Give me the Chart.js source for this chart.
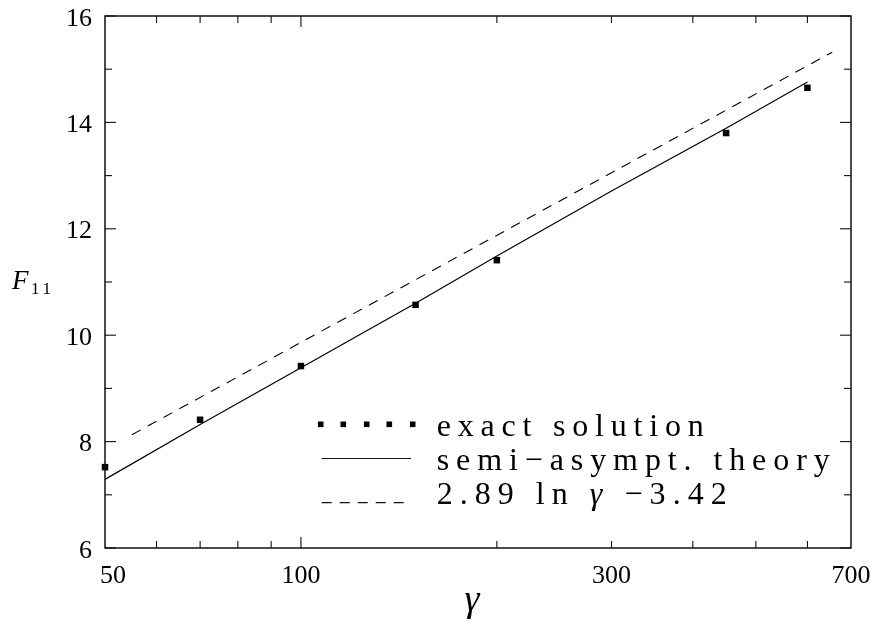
<!DOCTYPE html>
<html>
<head>
<meta charset="utf-8">
<title>F11 vs gamma</title>
<script src="https://cdn.jsdelivr.net/npm/chart.js@4.4.1/dist/chart.umd.min.js"></script>
<style>
  html, body { margin: 0; padding: 0; background: #fff; }
  #wrap { position: relative; width: 878px; height: 624px; }
</style>
</head>
<body>
<div id="wrap"><canvas id="plot"></canvas></div>
<script>
"use strict";

// exact solution (square markers)
const gammaExact = [50, 70, 100, 150, 200, 450, 600];
const f11Exact = [7.52, 8.41, 9.42, 10.57, 11.41, 13.80, 14.65];

// semi-asymptotic theory (solid curve)
const gammaSemi = [50, 70, 100, 150, 200, 300, 450, 600];
const f11Semi = [7.29, 8.32, 9.39, 10.60, 11.49, 12.71, 13.89, 14.76];

// fit 2.89 ln(gamma) - 3.42 (dashed), end points
const gammaFit = [55, 655];
const f11Fit = [8.13, 15.32];

// axes
const xRange = [50, 700];
const yRange = [6, 16];
const xLabels = [50, 100, 300, 700];
const xMajorTicks = [100];
const xMinorTicks = [60, 70, 80, 90, 200, 300, 400, 500, 600];
const yMajorTicks = [6, 8, 10, 12, 14, 16];
const yMinorTicks = [7, 9, 11, 13, 15];

const legendRows = [
  [{ text: "exact solution", style: "" }],
  [{ text: "semi\u2212asympt. theory", style: "" }],
  [{ text: "2.89 ln ", style: "" }, { text: "\u03b3", style: "italic " }, { text: " \u22123.42", style: "" }],
];

const SERIF = '"Liberation Serif", "DejaVu Serif", serif';

function pairs(xs, ys) {
  return xs.map((v, i) => ({ x: v, y: ys[i] }));
}

// Text with the spare room spread evenly between characters so it spans `width`.
function spacedText(ctx, runs, x0, yb, size, width) {
  const chars = [];
  for (const r of runs) {
    const font = r.style + size + "px " + SERIF;
    ctx.font = font;
    for (const ch of r.text) chars.push({ ch, font, w: ctx.measureText(ch).width });
  }
  const total = chars.reduce((s, c) => s + c.w, 0);
  const gap = (width - total) / (chars.length - 1);
  let x = x0;
  for (const c of chars) {
    ctx.font = c.font;
    ctx.fillText(c.ch, x, yb);
    x += c.w + gap;
  }
}

const frame = {
  id: "frame",
  afterDatasetsDraw(chart) {
    const { ctx, chartArea: a } = chart;
    const sx = chart.scales.x, sy = chart.scales.y;
    const line = (x1, y1, x2, y2) => {
      ctx.beginPath(); ctx.moveTo(x1, y1); ctx.lineTo(x2, y2); ctx.stroke();
    };
    ctx.save();
    ctx.strokeStyle = "#111";
    ctx.lineWidth = 1.5;
    ctx.strokeRect(a.left, a.top, a.right - a.left, a.bottom - a.top);

    // inward ticks on all four sides
    ctx.lineWidth = 1.1;
    const xTick = (v, len) => {
      const p = sx.getPixelForValue(v);
      line(p, a.bottom, p, a.bottom - len);
      line(p, a.top, p, a.top + len);
    };
    const yTick = (v, len) => {
      const p = sy.getPixelForValue(v);
      line(a.left, p, a.left + len, p);
      line(a.right, p, a.right - len, p);
    };
    xMajorTicks.forEach((v) => xTick(v, 11));
    xMinorTicks.forEach((v) => xTick(v, 7));
    yMajorTicks.forEach((v) => yTick(v, 11));
    yMinorTicks.forEach((v) => yTick(v, 7));

    // tick labels
    ctx.fillStyle = "#000";
    ctx.font = "26px " + SERIF;
    ctx.textBaseline = "alphabetic";
    ctx.textAlign = "right";
    yMajorTicks.forEach((v) => ctx.fillText(String(v), a.left - 13, sy.getPixelForValue(v) + 9.5));
    ctx.textAlign = "center";
    xLabels.forEach((v, i) => {
      const p = sx.getPixelForValue(v) + (i === 0 ? 8 : 0);
      ctx.fillText(String(v), p, a.bottom + 35);
    });

    // axis titles
    ctx.font = "italic 38px " + SERIF;
    ctx.fillText("\u03b3", (a.left + a.right) / 2 - 6, a.bottom + 63);
    ctx.textAlign = "left";
    ctx.font = "italic 27px " + SERIF;
    ctx.fillText("F", 12, 288.5);
    spacedText(ctx, [{ text: "11", style: "" }], 31, 293.5, 17, 20);

    // legend
    const lx0 = 321.7, lx1 = 411;
    [320.7, 343.3, 366.7, 389.3, 412.7].forEach((cx) => ctx.fillRect(cx - 2.8, 424.3 - 2.8, 5.6, 5.6));
    ctx.lineWidth = 1.2;
    line(lx0, 458.5, lx1, 458.5);
    ctx.setLineDash([10, 8]);
    line(lx0, 502.7, lx1, 502.7);
    ctx.setLineDash([]);
    const widths = [267, 393, 290];
    const baselines = [436, 470, 503.5];
    legendRows.forEach((runs, i) => spacedText(ctx, runs, 436.7, baselines[i], 32, widths[i]));
    ctx.restore();
  },
};

new Chart(document.getElementById("plot"), {
  type: "scatter",
  data: {
    datasets: [
      {
        label: "semi-asympt. theory",
        data: pairs(gammaSemi, f11Semi),
        showLine: true,
        borderColor: "#000",
        borderWidth: 1.2,
        pointRadius: 0,
        tension: 0,
        clip: false,
      },
      {
        label: "2.89 ln gamma -3.42",
        data: pairs(gammaFit, f11Fit),
        showLine: true,
        borderColor: "#000",
        borderWidth: 1.1,
        borderDash: [10, 8],
        pointRadius: 0,
        clip: false,
      },
      {
        label: "exact solution",
        data: pairs(gammaExact, f11Exact),
        showLine: false,
        pointStyle: "rect",
        pointRadius: 4.6,
        pointBorderWidth: 0,
        pointBackgroundColor: "#000",
        clip: false,
      },
    ],
  },
  options: {
    responsive: true,
    maintainAspectRatio: false,
    animation: false,
    layout: { padding: { left: 105, right: 27, top: 16, bottom: 76 } },
    scales: {
      x: { type: "logarithmic", min: xRange[0], max: xRange[1], display: false },
      y: { type: "linear", min: yRange[0], max: yRange[1], display: false },
    },
    plugins: {
      legend: { display: false },
      tooltip: { enabled: false },
    },
  },
  plugins: [frame],
});
</script>
</body>
</html>
